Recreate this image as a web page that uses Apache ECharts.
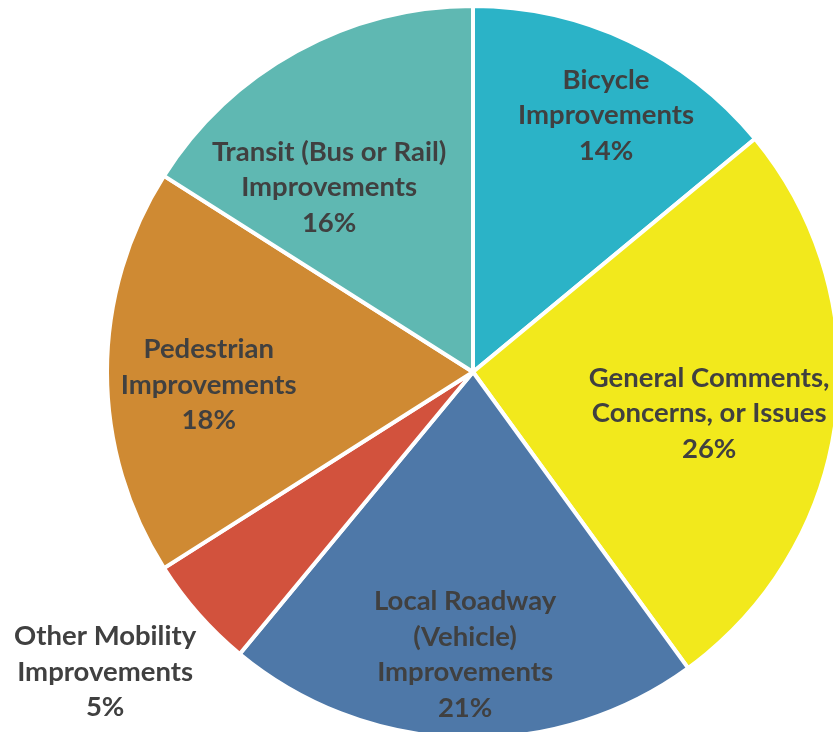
<!DOCTYPE html>
<html>
<head>
<meta charset="utf-8">
<script src="https://cdn.jsdelivr.net/npm/echarts@6/dist/echarts.min.js"></script>
<style>
  html, body { margin: 0; padding: 0; background: #ffffff; }
  #chart { width: 833px; height: 732px; }
</style>
</head>
<body>
<div id="chart"></div>
<script>
// Comment categories (label lines split with \n) and their shares in percent
const categories = [
  'Bicycle\nImprovements',
  'General Comments,\nConcerns, or Issues',
  'Local Roadway\n(Vehicle)\nImprovements',
  'Other Mobility\nImprovements',
  'Pedestrian\nImprovements',
  'Transit (Bus or Rail)\nImprovements'
];
const shares = [14, 26, 21, 5, 18, 16];

const sliceColors = ['#2BB3C7', '#F2E91C', '#4E78A8', '#D2523D', '#CF8A33', '#5FB8B2'];

// Label placement: distance from centre as a fraction of the radius, plus a small angular nudge (degrees)
const labelRadius = [0.79, 0.655, 0.772, 1.297, 0.723, 0.64];
const labelNudge = [2.2, 2.7, -0.2, 2.2, -2.8, -9.1];

const CX = 473, CY = 372, R = 366;

const total = shares.reduce((a, b) => a + b, 0);
const midAngles = [];
let acc = 0;
shares.forEach(v => { midAngles.push((acc + v / 2) / total * 360); acc += v; });

const chart = echarts.init(document.getElementById('chart'), null, { renderer: 'canvas' });
chart.setOption({
  animation: false,
  backgroundColor: '#ffffff',
  series: [{
    type: 'pie',
    center: [CX, CY],
    radius: [0, R],
    startAngle: 90,
    clockwise: true,
    percentPrecision: 0,
    avoidLabelOverlap: false,
    itemStyle: { borderColor: '#ffffff', borderWidth: 4 },
    label: {
      show: true,
      position: 'inside',
      formatter: '{b}\n{d}%',
      fontFamily: 'Lato',
      fontWeight: 'bold',
      fontSize: 27.5,
      lineHeight: 35.5,
      color: '#404040',
      align: 'center'
    },
    labelLine: { show: false },
    emphasis: { disabled: true },
    labelLayout: function (p) {
      const i = p.dataIndex;
      const a = (midAngles[i] + labelNudge[i]) * Math.PI / 180;
      const r = R * labelRadius[i];
      return {
        x: CX + r * Math.sin(a),
        y: CY - r * Math.cos(a),
        align: 'center',
        verticalAlign: 'middle'
      };
    },
    data: categories.map((name, i) => ({
      name: name,
      value: shares[i],
      itemStyle: { color: sliceColors[i] }
    }))
  }]
});
</script>
</body>
</html>
